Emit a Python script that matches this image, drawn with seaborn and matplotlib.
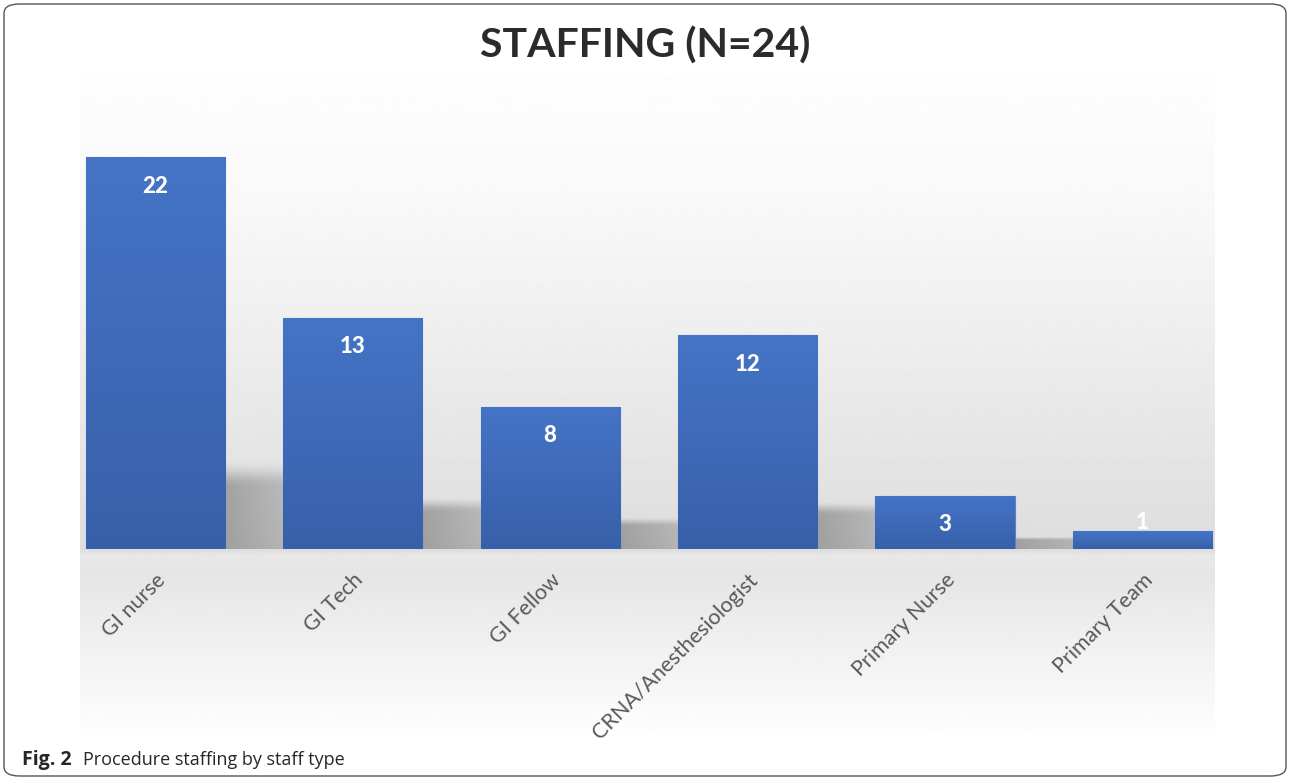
import numpy as np
import pandas as pd
import seaborn as sns
import matplotlib.pyplot as plt
from matplotlib.patches import FancyBboxPatch
from matplotlib.colors import LinearSegmentedColormap, to_rgb

sns.set_style('white')
plt.rcParams['font.family'] = ['Lato', 'DejaVu Sans']

# ---- data ----
staff_types = ['GI nurse', 'GI Tech', 'GI Fellow', 'CRNA/Anesthesiologist',
               'Primary Nurse', 'Primary Team']
counts = [22, 13, 8, 12, 3, 1]
title = 'STAFFING (N=24)'

df = pd.DataFrame({'staff': staff_types, 'count': counts})

W, H = 1290, 780
fig = plt.figure(figsize=(W / 100, H / 100), dpi=100)

# rounded frame around the whole figure
fig.patches.append(FancyBboxPatch((4 / W, 4 / H), 1 - 8 / W, 1 - 8 / H,
                                  boxstyle='round,pad=0,rounding_size=0.012',
                                  transform=fig.transFigure, fc='white',
                                  ec='#555555', lw=1.0, zorder=-10))

# grey gradient panel behind the plot (wall + floor)
bg = fig.add_axes([80 / W, 1 - 735 / H, (1215 - 80) / W, (735 - 75) / H], zorder=0)
rows = np.linspace(75, 735, 400)
shade = np.interp(rows, [75, 200, 540, 549, 556, 575, 735],
                  [0.995, 0.975, 0.87, 0.86, 0.91, 0.90, 0.995])
bg.imshow(shade[:, None], cmap='gray', vmin=0, vmax=1, aspect='auto',
          extent=[0, 1, 0, 1])
bg.axis('off')

# main axes
ax = fig.add_axes([56.75 / W, 1 - 549 / H, (1241 - 56.75) / W, (549 - 121.8) / H], zorder=1)
ax.patch.set_visible(False)
sns.barplot(data=df, x='staff', y='count', color='#4472C4', width=0.705,
            saturation=1, ax=ax, zorder=3)

# gradient fill for each bar, soft shadow in the gap to its right
blue = LinearSegmentedColormap.from_list('bl', ['#3860AA', '#4574C6'])
grad = np.linspace(0, 1, 256)[:, None]
sh_rgb = to_rgb('#4a4a4a')
bars = list(ax.patches)
for n, bar in enumerate(bars):
    x0, w, h = bar.get_x(), bar.get_width(), bar.get_height()
    bar.set_edgecolor('#5b82c9')
    bar.set_linewidth(0.8)
    im = ax.imshow(grad, cmap=blue, aspect='auto', origin='lower',
                   extent=[x0, x0 + w, 0, h], zorder=3.5)
    im.set_clip_path(bar)
    if n == len(bars) - 1:
        continue
    top = h * 0.225
    ys = np.linspace(0, top * 1.2, 120)[:, None]
    xs = np.linspace(0, 1, 60)[None, :]
    a_y = np.clip((top - ys) / (0.3 * top), 0, 1)
    a_y = a_y * a_y * (3 - 2 * a_y)
    a_x = 1 - 0.35 * xs
    alpha = 0.42 * a_y * a_x
    img = np.zeros(alpha.shape + (4,))
    img[..., :3] = sh_rgb
    img[..., 3] = alpha
    ax.imshow(img, aspect='auto', origin='lower', zorder=2,
              extent=[x0 + w, x0 + 1, 0, top * 1.2])

# value labels
for i, v in enumerate(counts):
    off = -21 if v * 17.8 > 40 else 6.5
    ax.annotate(str(v), (i, v), xytext=(0, off), textcoords='offset points',
                ha='center', va='center', color='white', fontsize=16,
                fontweight='black', zorder=5)

ax.set_xlim(-0.5, len(counts) - 0.5)
ax.set_ylim(0, 24)
ax.set_xlabel('')
ax.set_ylabel('')
ax.set_yticks([])
ax.tick_params(axis='x', length=0, pad=15)
plt.setp(ax.get_xticklabels(), rotation=45, ha='right', rotation_mode='anchor',
         fontsize=15.5, color='#595959')
sns.despine(ax=ax, left=True, bottom=True)

fig.text(0.5, 1 - 46 / H, title, ha='center', va='center', fontsize=29.5,
         fontweight='bold', color='#2b2b2b')

# caption
fig.text(22 / W, 1 - 760 / H, 'Fig. 2', ha='left', va='center', fontsize=14,
         fontweight='bold', family=['Open Sans', 'DejaVu Sans'])
fig.text(83 / W, 1 - 760 / H, 'Procedure staffing by staff type', ha='left',
         va='center', fontsize=13, family=['Open Sans', 'DejaVu Sans'])

fig.savefig('out.png', dpi=100)
